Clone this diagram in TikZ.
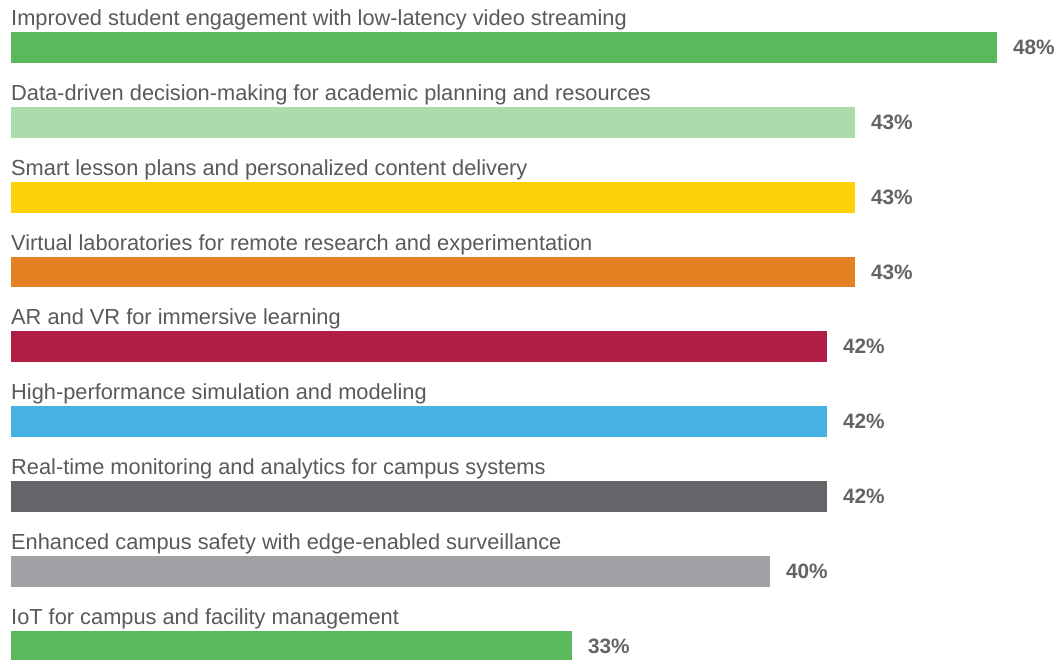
\documentclass[tikz,border=0pt]{standalone}
\usepackage{fontspec}
\setmainfont{Liberation Sans}
\usetikzlibrary{calc}
\definecolor{txt}{HTML}{58595B}
\definecolor{pctc}{HTML}{636466}
\definecolor{cgreen}{HTML}{5BB85D}
\definecolor{clgreen}{HTML}{ADDCAC}
\definecolor{cyellow}{HTML}{FDD20A}
\definecolor{corange}{HTML}{E38022}
\definecolor{ccrimson}{HTML}{B01E46}
\definecolor{cblue}{HTML}{46B2E2}
\definecolor{cdgray}{HTML}{646469}
\definecolor{clgray}{HTML}{A1A0A5}
\begin{document}
\begin{tikzpicture}[x=1pt,y=-1pt,
  bar/.style={draw=none,inner sep=0pt,minimum height=30.7pt,anchor=north west},
  lab/.style={inner sep=0pt,anchor=base west,text=txt,font=\fontsize{21.8}{24}\selectfont},
  pct/.style={inner sep=0pt,anchor=base west,text=pctc,font=\fontsize{20.8}{24}\selectfont\bfseries}]
\useasboundingbox (0,0) rectangle (1060,660);
\foreach \i/\top/\w/\c/\p/\t in {
 1/32/986/cgreen/48/{Improved student engagement with low-latency video streaming},
 2/107/844/clgreen/43/{Data-driven decision-making for academic planning and resources},
 3/182/844/cyellow/43/{Smart lesson plans and personalized content delivery},
 4/256.5/844/corange/43/{Virtual laboratories for remote research and experimentation},
 5/331/816/ccrimson/42/{AR and VR for immersive learning},
 6/406/816/cblue/42/{High-performance simulation and modeling},
 7/481/816/cdgray/42/{Real-time monitoring and analytics for campus systems},
 8/556/759/clgray/40/{Enhanced campus safety with edge-enabled surveillance},
 9/631/561/cgreen/33/{IoT for campus and facility management}} {
  \node[bar,fill=\c,minimum width=\w pt] (b\i) at (11,\top) {};
  \node[lab] (l\i) at (11,\top-6.3) {\t};
  \node[pct] (p\i) at ($(b\i.east)+(15.5,7.4)$) {\p\%};
}
\end{tikzpicture}
\end{document}
